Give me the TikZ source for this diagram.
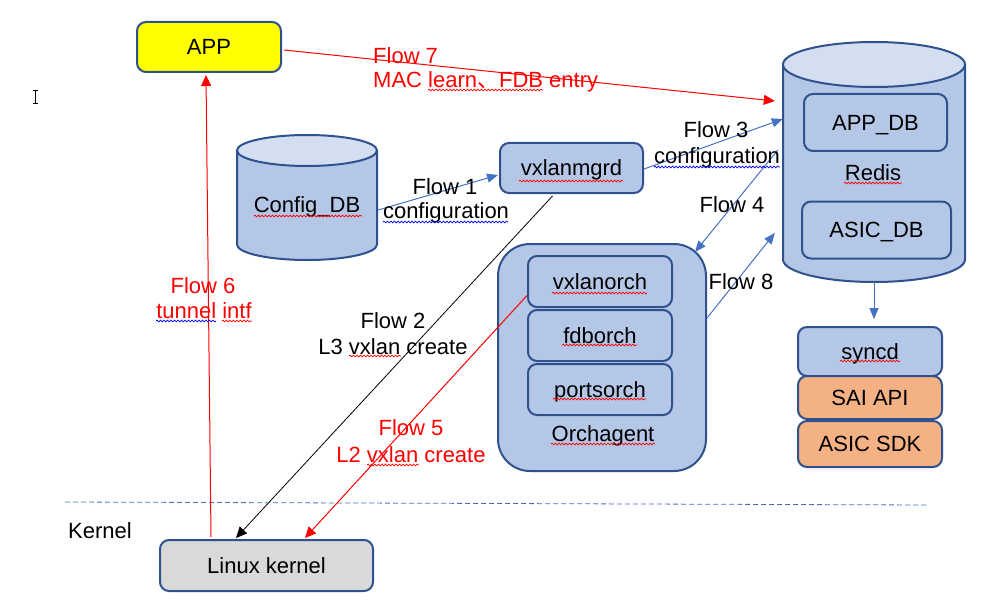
\documentclass[tikz,border=0pt]{standalone}
\usepackage{fontspec}
\setmainfont{Liberation Sans}
\newfontfamily\cjkfont{Noto Sans CJK SC}
\usetikzlibrary{arrows.meta,calc,decorations.pathmorphing}
\definecolor{boxblue}{HTML}{B4C7E7}
\definecolor{toplight}{HTML}{D3DEF1}
\definecolor{bordr}{HTML}{2F528F}
\definecolor{arrblue}{HTML}{4472C4}
\definecolor{orng}{HTML}{F4B183}
\definecolor{gry}{HTML}{D9D9D9}
\definecolor{yel}{HTML}{FFFF00}
\definecolor{redc}{HTML}{FF0000}
\definecolor{spellblue}{HTML}{0000FF}
\begin{document}
\begin{tikzpicture}[x=1pt,y=-1pt,
  font=\fontsize{22}{26}\selectfont,
  box/.style={draw=bordr, line width=2pt, rounded corners=9pt, text height=15.75pt, text depth=0pt, inner sep=0pt},
  ghost/.style={inner sep=0pt},
  lbl/.style={anchor=base, inner sep=0pt},
  lblw/.style={anchor=base west, inner sep=0pt},
  redtxt/.style={text=redc},
  bluearr/.style={draw=arrblue, line width=1pt, -{Triangle[length=11pt,width=9pt]}},
  redarr/.style={draw=redc, line width=1pt, -{Triangle[length=11pt,width=10pt]}},
  blackarr/.style={draw=black, line width=0.8pt, -{Triangle[length=11pt,width=10pt]}},
  sqr/.style={draw=redc, line width=0.7pt, decorate, decoration={snake, amplitude=0.9pt, segment length=3.5pt}},
  sqb/.style={sqr, draw=spellblue},
  cylbody/.style={fill=boxblue, draw=bordr, line width=2pt},
  cyltop/.style={fill=toplight, draw=bordr, line width=2pt},
]
\useasboundingbox (0,0) rectangle (1001,615);

% cursor mark
\draw[line width=0.8pt] (35.5,90) -- (35.5,103.5) (33,90) -- (38,90) (33,103.5) -- (38,103.5);

% APP
\node[box, fill=yel, minimum width=144pt, minimum height=50pt] (app) at (209,47) {APP};

% Config_DB cylinder
\filldraw[cylbody] (237,150.5) -- (237,244.5) arc[start angle=180, end angle=360, x radius=70pt, y radius=15.5pt] -- (377,150.5);
\draw[cyltop] (307,150.5) ellipse [x radius=70pt, y radius=15.5pt];
\node[ghost, minimum width=140pt, minimum height=125pt] (configdb) at (307,197.5) {};
\node[lbl] (configlbl) at (307,212) {Config\_DB};

% vxlanmgrd
\node[box, fill=boxblue, minimum width=143pt, minimum height=50pt] (vxmgr) at (571.5,168) {vxlanmgrd};

% Redis cylinder
\filldraw[cylbody] (783,64.5) -- (783,259.5) arc[start angle=180, end angle=360, x radius=91pt, y radius=22.5pt] -- (965,64.5);
\draw[cyltop] (874,64.5) ellipse [x radius=91pt, y radius=22.5pt];
\node[ghost, minimum width=182pt, minimum height=240pt] (redis) at (874,162) {};
\node[box, fill=boxblue, minimum width=143pt, minimum height=57pt] (appdb) at (875.5,122.5) {APP\_DB};
\node[lbl] (redislbl) at (873,180) {Redis};
\node[box, fill=boxblue, minimum width=149pt, minimum height=57pt] (asicdb) at (876.5,230) {ASIC\_DB};

% Orchagent
\node[box, fill=boxblue, rounded corners=32pt, minimum width=208pt, minimum height=227pt] (orch) at (602,357.5) {};
\node[box, fill=boxblue, minimum width=144pt, minimum height=51pt] (vxorch) at (600,281.5) {vxlanorch};
\node[box, fill=boxblue, minimum width=144pt, minimum height=51pt] (fdb) at (600,335.5) {fdborch};
\node[box, fill=boxblue, minimum width=144pt, minimum height=51pt] (ports) at (600,389.5) {portsorch};
\node[lbl] (orchlbl) at (603,441) {Orchagent};

% syncd stack
\node[box, fill=boxblue, minimum width=144pt, minimum height=49pt] (syncd) at (870,351.5) {syncd};
\node[box, fill=orng, minimum width=144pt, minimum height=43pt] (sai) at (870,397.5) {SAI API};
\node[box, fill=orng, minimum width=144pt, minimum height=46pt] (sdk) at (870,444) {ASIC SDK};

% kernel
\coordinate (d1) at (65,502);
\coordinate (d2) at (928,505);
\draw[arrblue, line width=0.8pt, dash pattern=on 5pt off 3pt] (d1) -- (d2);
\node[lblw] (kernellbl) at (68,538) {Kernel};
\node[box, fill=gry, minimum width=213pt, minimum height=51pt] (linux) at (266.5,565.5) {Linux kernel};

% connectors
\draw[redarr] ($(app.east)+(2,3)$) -- ($(redis.west)+(-8,-61)$);
\draw[redarr] ($(linux.north west)+(52,-2)$) -- ($(app.south)+(-3,2)$);
\draw[bluearr] ($(configdb.east)+(1,12.5)$) -- ($(vxmgr.west)+(-1,7)$);
\draw[bluearr] ($(vxmgr.east)+(0,1)$) -- ($(redis.west)+(0,-43)$);
\draw[bluearr] ($(redis.west)+(-5,-12)$) -- ($(orch.north east)+(-12,9)$);
\draw[bluearr] ($(orch.east)+(0,-39.5)$) -- ($(redis.west)+(-8,71)$);
\draw[blackarr] ($(vxmgr.south)+(-19,2)$) -- ($(linux.north west)+(77,-1)$);
\draw[redarr] ($(vxorch.west)+(0,14)$) -- ($(linux.north west)+(146,-1)$);
\draw[bluearr] (redis.south) -- ($(syncd.north)+(4,-7)$);

% flow labels
\node[lblw, redtxt] (f7a) at (373,64) {Flow 7};
\node[lblw, redtxt] (f7b) at (373,88) {MAC learn{\cjkfont 、}FDB entry};
\node[lbl] (f1a) at (445,194) {Flow 1};
\node[lbl] (f1b) at (446,218) {configuration};
\node[lbl] (f3a) at (716,138) {Flow 3};
\node[lbl] (f3b) at (717,163) {configuration};
\node[lbl] (f4) at (732,212) {Flow 4};
\node[lbl] (f8) at (741,289) {Flow 8};
\node[lbl] (f2a) at (393,328) {Flow 2};
\node[lbl] (f2b) at (393,354) {L3 vxlan create};
\node[lbl, redtxt] (f5a) at (411,435) {Flow 5};
\node[lbl, redtxt] (f5b) at (411,462) {L2 vxlan create};
\node[lbl, redtxt] (f6a) at (203,293) {Flow 6};
\node[lbl, redtxt] (f6b) at (204,318) {tunnel intf};

% spell-check underlines
\draw[sqr] (254,216) -- (362,216);
\draw[sqb] (383,222) -- (508,222);
\draw[sqr] (428,90) -- (543,90);
\draw[sqr] (519,181) -- (623,181);
\draw[sqb] (654,167) -- (780,167);
\draw[sqr] (844,183) -- (902,183);
\draw[sqb] (156,321) -- (216,321);
\draw[sqr] (222,321) -- (252,321);
\draw[sqr] (349,356) -- (401,356);
\draw[sqr] (367,465) -- (419,465);
\draw[sqr] (552,293) -- (647,293);
\draw[sqr] (562,345) -- (637,345);
\draw[sqr] (553,399) -- (646,399);
\draw[sqr] (551,444) -- (655,444);
\draw[sqr] (840,361) -- (900,361);
\end{tikzpicture}
\end{document}
